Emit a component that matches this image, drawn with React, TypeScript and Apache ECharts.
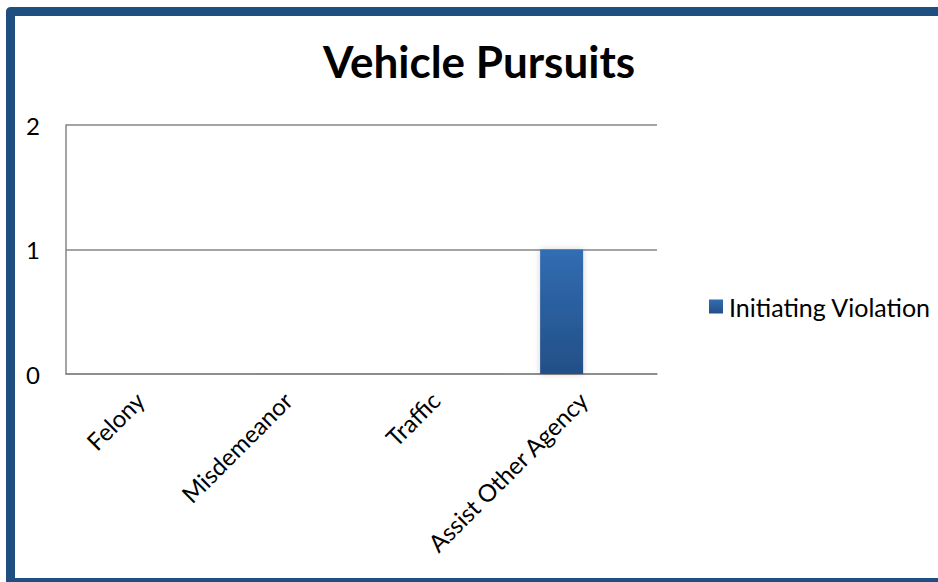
import React, { useEffect, useRef } from "react";
import * as echarts from "echarts";

const categories = ["Felony", "Misdemeanor", "Traffic", "Assist Other Agency"];
const initiatingViolation = [0, 0, 0, 1];
const emptySeriesValues = [0, 0, 0, 0];
const yTicks = { min: 0, max: 2, interval: 1 };

const FONT = "Lato";

export default function App() {
  const ref = useRef<HTMLDivElement>(null);
  useEffect(() => {
    document.body.style.margin = "0";
    document.body.style.overflow = "hidden";
    if (!ref.current) return;
    const chart = echarts.init(ref.current, null, { renderer: "svg" });
    chart.setOption({
      animation: false,
      backgroundColor: "#ffffff",
      textStyle: { fontFamily: FONT },
      graphic: [
        {
          type: "line",
          shape: { x1: 938, y1: 11.5, x2: 10.5, y2: 11.5 },
          style: { stroke: "#1F4E80", lineWidth: 9, lineCap: "butt" },
          z: 100,
        },
        {
          type: "line",
          shape: { x1: 10.5, y1: 11.5, x2: 10.5, y2: 582 },
          style: { stroke: "#1F4E80", lineWidth: 9, lineCap: "butt" },
          z: 100,
        },
        {
          type: "line",
          shape: { x1: 10.5, y1: 580.5, x2: 938, y2: 580.5 },
          style: { stroke: "#1F4E80", lineWidth: 5, lineCap: "butt" },
          z: 100,
        },
        {
          type: "circle",
          shape: { cx: 10.5, cy: 11.5, r: 4.5 },
          style: { fill: "#1F4E80" },
          z: 100,
        },
        {
          type: "text",
          x: 479,
          y: 61,
          style: {
            text: "Vehicle Pursuits",
            fontFamily: FONT,
            fontWeight: "bold",
            fontSize: 44,
            fill: "#000000",
            textAlign: "center",
            textVerticalAlign: "middle",
          },
        },
      ],
      legend: {
        data: ["Initiating Violation"],
        left: 709,
        top: 294,
        padding: 0,
        icon: "rect",
        itemWidth: 14,
        itemHeight: 14,
        itemGap: 8,
        textStyle: { fontFamily: FONT, fontSize: 25, color: "#000000", padding: [0, 0, 0, 1] },
      },
      grid: { left: 66, right: 281, top: 125, bottom: 208, containLabel: false },
      xAxis: {
        type: "category",
        data: categories,
        axisLine: { show: true, lineStyle: { color: "#868686", width: 1.5 } },
        axisTick: { show: false },
        axisLabel: {
          rotate: 45,
          margin: 22,
          interval: 0,
          color: "#000000",
          fontFamily: FONT,
          fontSize: 24,
        },
      },
      yAxis: {
        type: "value",
        min: yTicks.min,
        max: yTicks.max,
        interval: yTicks.interval,
        axisLine: { show: true, lineStyle: { color: "#868686", width: 1.5 } },
        axisTick: { show: false },
        splitLine: { show: true, lineStyle: { color: "#868686", width: 1.5 } },
        axisLabel: {
          margin: 26,
          color: "#000000",
          fontFamily: FONT,
          fontSize: 24,
          align: "right",
        },
      },
      series: [
        {
          name: "Initiating Violation",
          type: "bar",
          data: initiatingViolation,
          barWidth: 43,
          barGap: "0%",
          itemStyle: {
            color: new echarts.graphic.LinearGradient(0, 0, 0, 1, [
              { offset: 0, color: "#316DB3" },
              { offset: 1, color: "#234F86" },
            ]),
            shadowBlur: 6,
            shadowColor: "rgba(0,0,0,0.18)",
          },
        },
        {
          name: "Series 2",
          type: "bar",
          data: emptySeriesValues,
          barWidth: 43,
          barGap: "0%",
          itemStyle: { color: "#C0504D" },
        },
      ],
    });
    return () => chart.dispose();
  }, []);
  return (
    <div
      ref={ref}
      style={{ position: "absolute", left: 0, top: 0, width: 938, height: 582, background: "#fff" }}
    />
  );
}
